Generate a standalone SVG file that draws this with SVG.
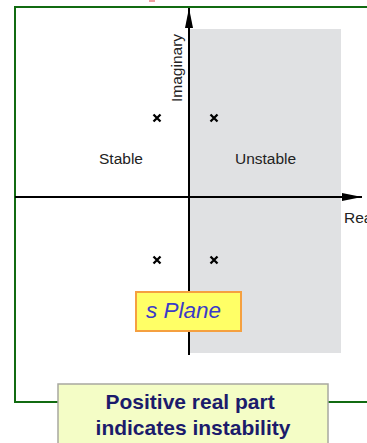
<svg xmlns="http://www.w3.org/2000/svg" width="367" height="443" viewBox="0 0 367 443">
<style>
.frame{fill:none;stroke:#116b11;stroke-width:2}
.axis{stroke:#000;stroke-width:2;fill:none}
.lbl{font-family:"Liberation Sans",Arial,sans-serif;font-size:15.5px;fill:#222}
.x{stroke:#000;stroke-width:2.3;stroke-linecap:butt}
</style>
<defs>
<marker id="ah" viewBox="0 0 20 8" refX="20" refY="4" markerWidth="20" markerHeight="8" markerUnits="userSpaceOnUse" orient="auto">
<path d="M0,0 L20,4 L0,8 z" fill="#000"/>
</marker>
</defs>
<rect width="367" height="443" fill="#fff"/>
<rect x="149" y="0" width="6" height="2" fill="#f0a0a0"/>
<g id="frame">
<path class="frame" d="M367,7 H15 V402 H58 M328,402 H367"/>
</g>
<g id="unstable-region">
<rect x="190" y="29" width="151" height="324" fill="#e0e1e3"/>
</g>
<g id="connectors">
<line class="axis" x1="189" y1="355" x2="189" y2="8" marker-end="url(#ah)"/>
<line class="axis" x1="15" y1="197" x2="362" y2="197" marker-end="url(#ah)"/>
</g>
<g id="labels">
<text class="lbl" transform="translate(182,102) rotate(-90)" font-size="14.5">Imaginary</text>
<text class="lbl" x="99" y="164">Stable</text>
<text class="lbl" x="235" y="164">Unstable</text>
<text class="lbl" x="344" y="223" font-size="14">Real</text>
</g>
<g id="poles">
<path class="x" d="M153.5,114.5 l7,7 m0,-7 l-7,7"/>
<path class="x" d="M210.5,114.5 l7,7 m0,-7 l-7,7"/>
<path class="x" d="M153.5,256.5 l7,7 m0,-7 l-7,7"/>
<path class="x" d="M210.5,256.5 l7,7 m0,-7 l-7,7"/>
</g>
<g id="s-plane">
<rect x="136" y="292" width="105" height="39" fill="#ffff66" stroke="#f5a040" stroke-width="2"/>
<text x="146" y="318" font-family="Liberation Sans,Arial,sans-serif" font-style="italic" font-size="22.5" fill="#3b3bc8">s Plane</text>
</g>
<g id="note">
<rect x="58" y="384" width="270" height="62" fill="#f4fdc6" stroke="#a8a8a0" stroke-width="1.5"/>
<text font-family="Liberation Sans,Arial,sans-serif" font-weight="bold" font-size="21" fill="#1b1b6b" text-anchor="middle">
<tspan x="193" y="409">Positive real part</tspan>
<tspan x="193" y="435">indicates instability</tspan>
</text>
</g>
</svg>
